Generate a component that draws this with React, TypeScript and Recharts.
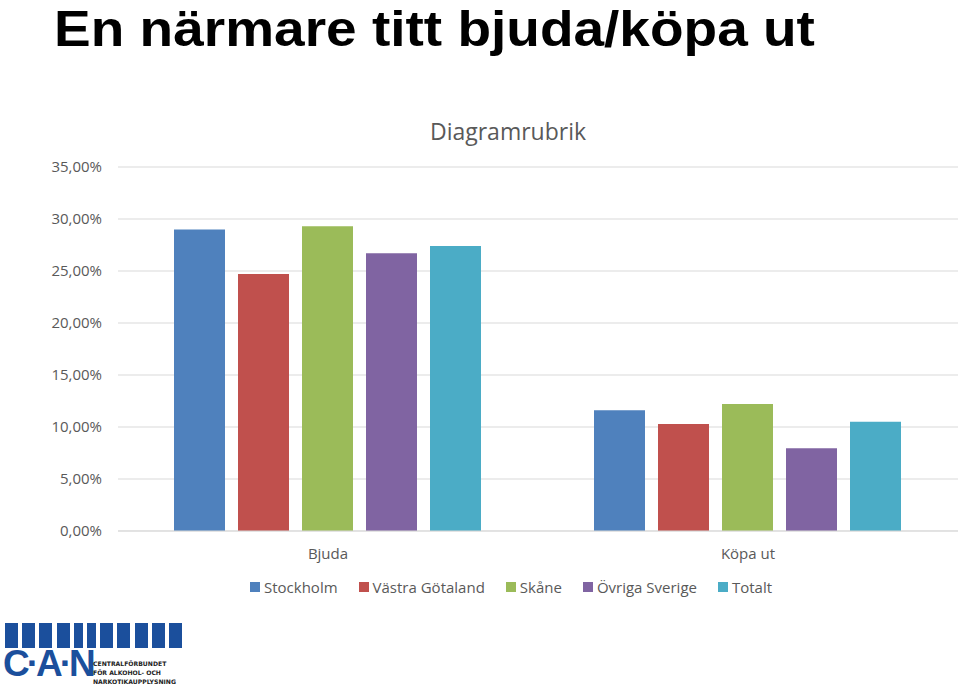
import { BarChart, Bar, XAxis, YAxis, CartesianGrid } from 'recharts';

const categories = ['Bjuda', 'Köpa ut'];
const stockholm = [29.0, 11.6];
const vastraGotaland = [24.7, 10.3];
const skane = [29.3, 12.2];
const ovrigaSverige = [26.7, 7.95];
const totalt = [27.4, 10.5];
const yTicks = [0, 5, 10, 15, 20, 25, 30, 35];

const series = [
  { key: 'Stockholm', values: stockholm, color: '#4F81BD' },
  { key: 'Västra Götaland', values: vastraGotaland, color: '#C0504D' },
  { key: 'Skåne', values: skane, color: '#9BBB59' },
  { key: 'Övriga Sverige', values: ovrigaSverige, color: '#8064A2' },
  { key: 'Totalt', values: totalt, color: '#4BACC6' },
];

const data = categories.map((name, i) => {
  const row: Record<string, string | number> = { name };
  series.forEach(s => { row[s.key] = s.values[i]; });
  return row;
});

const fmt = (v: number) => v.toFixed(2).replace('.', ',') + '%';

const font = 'Open Sans, Noto Sans, sans-serif';
const logoBlue = '#1b4f9c';
const logoBars = [13, 13, 13, 13, 9, 9, 13, 13, 13, 13, 13];

function Logo() {
  let x = 5;
  return (
    <div style={{ position: 'absolute', left: 0, top: 618, width: 190, height: 68 }}>
      {logoBars.map((w, i) => {
        const left = x;
        x += w + 4.2;
        return (
          <div key={i} style={{ position: 'absolute', left, top: 5, width: w, height: 25, background: logoBlue }} />
        );
      })}
      <div style={{ position: 'absolute', left: 3, top: 25, fontFamily: 'Liberation Sans, sans-serif', fontWeight: 900, fontSize: 37, color: logoBlue, letterSpacing: -3, whiteSpace: 'nowrap' }}>
        C·A·N
      </div>
      <div style={{ position: 'absolute', left: 93, top: 41, fontFamily: 'DejaVu Sans, sans-serif', fontWeight: 700, fontSize: 6.1, lineHeight: '9px', color: '#222', whiteSpace: 'nowrap' }}>
        CENTRALFÖRBUNDET<br />FÖR ALKOHOL- OCH<br />NARKOTIKAUPPLYSNING
      </div>
    </div>
  );
}

function LegendRow() {
  return (
    <div style={{ position: 'absolute', left: 250, top: 577, display: 'flex', alignItems: 'center', fontFamily: font, fontSize: 15, color: '#595959', whiteSpace: 'nowrap' }}>
      {series.map(s => (
        <div key={s.key} style={{ display: 'flex', alignItems: 'center', marginRight: 21 }}>
          <div style={{ width: 10, height: 10, background: s.color, marginRight: 4 }} />
          <span>{s.key}</span>
        </div>
      ))}
    </div>
  );
}

export default function App() {
  return (
    <div style={{ position: 'absolute', left: 0, top: 0, width: 960, height: 686, background: '#fff', overflow: 'hidden' }}>
      <div style={{ position: 'absolute', left: 54, top: 0, fontFamily: 'Liberation Sans, sans-serif', fontWeight: 700, fontSize: 50, color: '#000', whiteSpace: 'nowrap', transform: 'scaleX(1.1)', transformOrigin: 'left top' }}>
        En närmare titt bjuda/köpa ut
      </div>
      <div style={{ position: 'absolute', left: 0, width: 1016, top: 115, textAlign: 'center', fontFamily: font, fontSize: 23, color: '#595959' }}>
        Diagramrubrik
      </div>
      <div style={{ position: 'absolute', left: 0, top: 0 }}>
        <BarChart
          width={960}
          height={571}
          data={data}
          margin={{ top: 167, right: 2, left: 0, bottom: 0 }}
          barCategoryGap={56}
          barGap={13}
        >
          <CartesianGrid vertical={false} stroke="#d9d9d9" strokeWidth={1} />
          <XAxis
            dataKey="name"
            axisLine={{ stroke: '#d9d9d9' }}
            tickLine={false}
            tick={{ fill: '#595959', fontSize: 15, fontFamily: font }}
            tickMargin={11}
            height={40}
          />
          <YAxis
            domain={[0, 35]}
            ticks={yTicks}
            tickFormatter={fmt}
            axisLine={false}
            tickLine={false}
            tickSize={0}
            tickMargin={16}
            width={118}
            interval={0}
            tick={{ fill: '#595959', fontSize: 15, fontFamily: font }}
          />
          {series.map(s => (
            <Bar key={s.key} dataKey={s.key} fill={s.color} isAnimationActive={false} />
          ))}
        </BarChart>
      </div>
      <LegendRow />
      <Logo />
    </div>
  );
}
